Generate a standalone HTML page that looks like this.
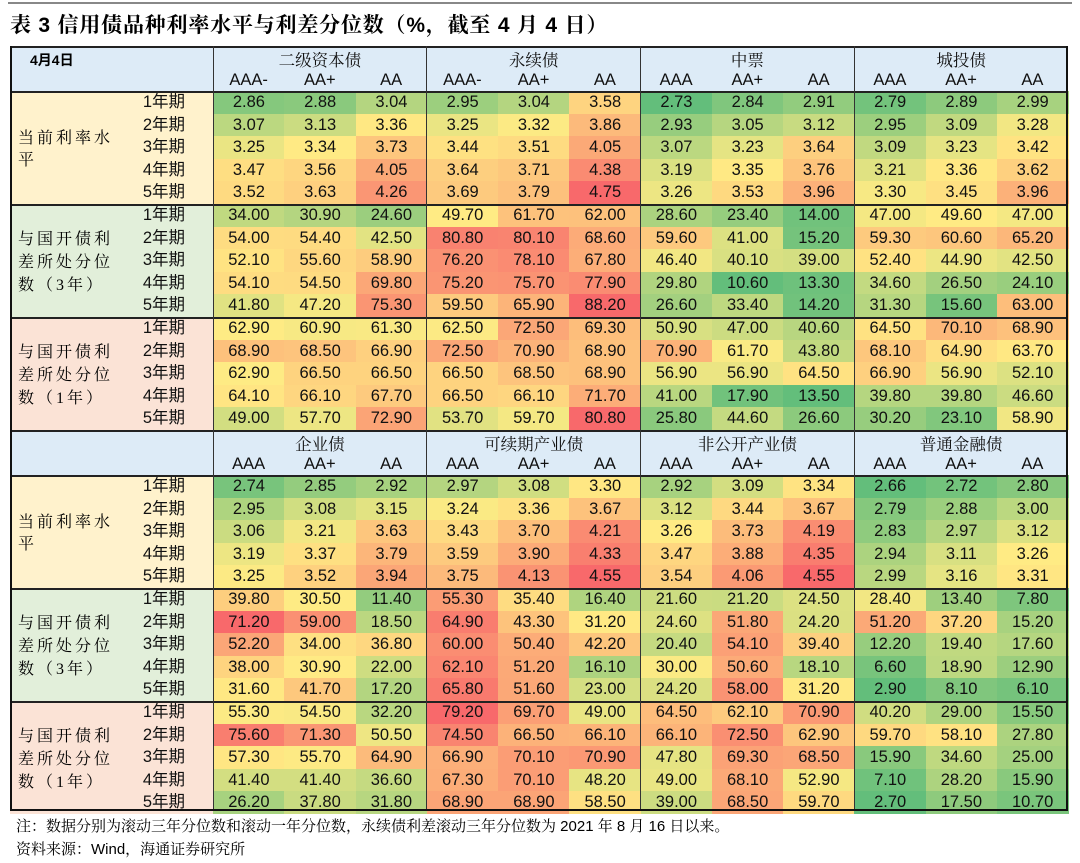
<!DOCTYPE html>
<html><head><meta charset="utf-8"><style>
body{margin:0;width:1080px;height:863px;background:#fff;position:relative;overflow:hidden;font-family:"Liberation Sans","Noto Sans CJK SC",sans-serif;}
.a{position:absolute;box-sizing:border-box;}
.c{display:flex;align-items:center;justify-content:center;font-size:16.5px;color:#111;}
.cj{font-family:"Liberation Serif","Noto Serif CJK SC",serif;}
.tm{font-family:"Liberation Sans","Noto Sans CJK SC",sans-serif;line-height:1;}
</style></head><body>
<div class="a" style="left:8px;top:2px;width:1064px;height:2px;background:#888"></div>
<div class="a" style="left:10px;top:9px;font-size:21px;font-weight:bold;white-space:nowrap;letter-spacing:0.8px;font-family:'Liberation Sans','Noto Serif CJK SC',serif">表 3 信用债品种利率水平与利差分位数（%，截至 4 月 4 日）</div>
<div id="t"></div>
<div class="a cj" style="left:16px;top:815px;font-size:15px;white-space:nowrap;font-family:'Liberation Sans','Noto Serif CJK SC',serif">注：数据分别为滚动三年分位数和滚动一年分位数，永续债利差滚动三年分位数为 2021 年 8 月 16 日以来。</div>
<div class="a cj" style="left:16px;top:838px;font-size:15px;white-space:nowrap;font-family:'Liberation Sans','Noto Serif CJK SC',serif">资料来源：Wind，海通证券研究所</div>
<script>
const D=[
`2.86 2.88 3.04 2.95 3.04 3.58 2.73 2.84 2.91 2.79 2.89 2.99
3.07 3.13 3.36 3.25 3.32 3.86 2.93 3.05 3.12 2.95 3.09 3.28
3.25 3.34 3.73 3.44 3.51 4.05 3.07 3.23 3.64 3.09 3.23 3.42
3.47 3.56 4.05 3.64 3.71 4.38 3.19 3.35 3.76 3.21 3.36 3.62
3.52 3.63 4.26 3.69 3.79 4.75 3.26 3.53 3.96 3.30 3.45 3.96`,
`34.00 30.90 24.60 49.70 61.70 62.00 28.60 23.40 14.00 47.00 49.60 47.00
54.00 54.40 42.50 80.80 80.10 68.60 59.60 41.00 15.20 59.30 60.60 65.20
52.10 55.60 58.90 76.20 78.10 67.80 46.40 40.10 39.00 52.40 44.90 42.50
54.10 54.50 69.80 75.20 75.70 77.90 29.80 10.60 13.30 34.60 26.50 24.10
41.80 47.20 75.30 59.50 65.90 88.20 26.60 33.40 14.20 31.30 15.60 63.00`,
`62.90 60.90 61.30 62.50 72.50 69.30 50.90 47.00 40.60 64.50 70.10 68.90
68.90 68.50 66.90 72.50 70.90 68.90 70.90 61.70 43.80 68.10 64.90 63.70
62.90 66.50 66.50 66.50 68.50 68.90 56.90 56.90 64.50 66.90 56.90 52.10
64.10 66.10 67.70 66.50 66.10 71.70 41.00 17.90 13.50 39.80 39.80 46.60
49.00 57.70 72.90 53.70 59.70 80.80 25.80 44.60 26.60 30.20 23.10 58.90`,
`2.74 2.85 2.92 2.97 3.08 3.30 2.92 3.09 3.34 2.66 2.72 2.80
2.95 3.08 3.15 3.24 3.36 3.67 3.12 3.44 3.67 2.79 2.88 3.00
3.06 3.21 3.63 3.43 3.70 4.21 3.26 3.73 4.19 2.83 2.97 3.12
3.19 3.37 3.79 3.59 3.90 4.33 3.47 3.88 4.35 2.94 3.11 3.26
3.25 3.52 3.94 3.75 4.13 4.55 3.54 4.06 4.55 2.99 3.16 3.31`,
`39.80 30.50 11.40 55.30 35.40 16.40 21.60 21.20 24.50 28.40 13.40 7.80
71.20 59.00 18.50 64.90 43.30 31.20 24.60 51.80 24.20 51.20 37.20 15.20
52.20 34.00 36.80 60.00 50.40 42.20 20.40 54.10 39.40 12.20 19.40 17.60
38.00 30.90 22.00 62.10 51.20 16.10 30.00 50.60 18.10 6.60 18.90 12.90
31.60 41.70 17.20 65.80 51.60 23.00 24.20 58.00 31.20 2.90 8.10 6.10`,
`55.30 54.50 32.20 79.20 69.70 49.00 64.50 62.10 70.90 40.20 29.00 15.50
75.60 71.30 50.50 74.50 66.50 66.10 66.10 72.50 62.90 59.70 58.10 27.80
57.30 55.70 64.90 66.90 70.10 70.90 47.80 69.30 68.50 15.90 34.60 25.00
41.40 41.40 36.60 67.30 70.10 48.20 49.00 68.10 52.90 7.10 28.20 15.90
26.20 37.80 31.80 68.90 68.90 58.50 39.00 68.50 59.70 2.70 17.50 10.70`];
const G=[99,190,123],Y=[255,235,132],R=[248,105,107];
function mix(a,b,t){return 'rgb('+a.map((v,i)=>Math.round(v+(b[i]-v)*t)).join(',')+')'}
let h='';const L=10,RR=1068,X0=213,CW=(RR-X0)/12,RH=22.6;
function div(x,y,w,hh,st,cls,txt){h+=`<div class="a ${cls||''}" style="left:${x}px;top:${y}px;width:${w}px;height:${hh}px;${st}">${txt||''}</div>`;}
const groups=[["二级资本债","永续债","中票","城投债"],["企业债","可续期产业债","非公开产业债","普通金融债"]];
const rats=[["AAA-","AA+","AA","AAA-","AA+","AA","AAA","AA+","AA","AAA","AA+","AA"],["AAA","AA+","AA","AAA","AA+","AA","AAA","AA+","AA","AAA","AA+","AA"]];
const labs=[["当前利率水","平"],["与国开债利","差所处分位","数（3年）"],["与国开债利","差所处分位","数（1年）"]];
const lbg=["#FFF2CC","#E2EFDA","#FBE3D6"];
const hTop=[46,430],hH=45;
for(let s=0;s<2;s++){
 const y0=hTop[s];
 div(L,y0,RR-L,hH,'background:#DDEBF7');
 if(s==0)div(30,y0+4,80,18,'font-weight:bold;font-size:14px','', '4月4日');
 for(let g=0;g<4;g++){
  div(X0+g*CW*3,y0+2,CW*3,22,'','c cj',groups[s][g]);
 }
 for(let c=0;c<12;c++)div(X0+c*CW,y0+23,CW,22,'','c',rats[s][c]);
 for(let b=0;b<3;b++){
  const by=y0+hH+b*5*RH, bi=s*3+b;
  div(L,by,X0-L,5*RH,'background:'+lbg[b]);
  const ls=labs[b];const lh=22.6;
  const ty=by+(5*RH-ls.length*lh)/2;
  ls.forEach((t,i)=>div(18,ty+i*lh,120,lh,'font-size:16px;display:flex;align-items:center;letter-spacing:3px','cj',t));
  const rows=D[bi].split('\n').map(r=>r.trim().split(/\s+/));
  const vals=rows.flat().map(Number).sort((a,b)=>a-b);
  const mn=vals[0],mx=vals[vals.length-1],n=vals.length;
  const md=(vals[(n-1)>>1]+vals[n>>1])/2;
  rows.forEach((r,ri)=>{
   const ry=by+ri*RH;
   div(100,ry,85,RH,'justify-content:flex-end','c tm',(ri+1)+'年期');
   r.forEach((v,ci)=>{
    const x=+v;let col;
    if(x<=md)col=mix(G,Y,(x-mn)/(md-mn));else col=mix(Y,R,(x-md)/(mx-md));
    div(X0+ci*CW,ry,CW+0.5,RH+0.5,'background:'+col,'c',v);
   });
  });
  div(L,by,RR-L,2,'background:#222');
 }
 div(L,y0,RR-L,2,'background:#222');
}
for(let g=0;g<4;g++)div(X0+g*CW*3-0.5,46,1.2,765,'background:#333');
div(L,46,2,765,'background:#111');div(RR-2,46,2,765,'background:#111');
div(L,809,RR-L,2,'background:#111');
document.getElementById('t').innerHTML=h;
</script>
</body></html>
